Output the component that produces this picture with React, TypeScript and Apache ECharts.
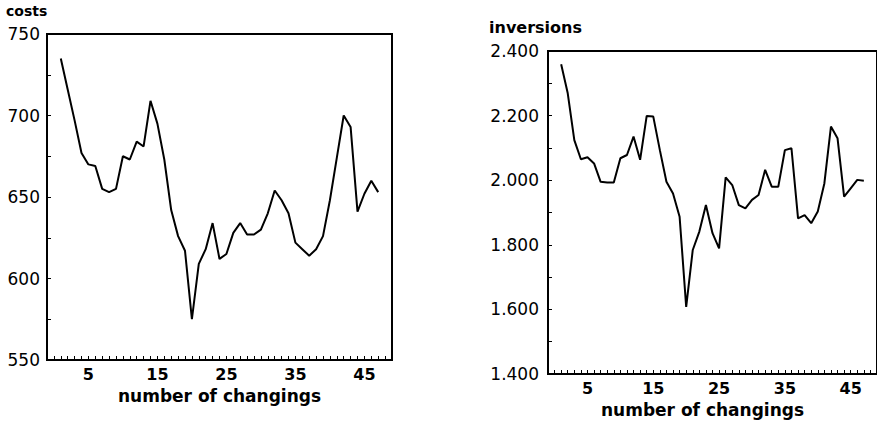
import React, { useEffect, useRef } from "react";
import * as echarts from "echarts";

const costs: number[] = [
  735, 716, 697, 677, 670, 669, 655, 653, 655, 675, 673, 684, 681, 709, 695, 673,
  642, 626, 617, 575, 609, 618, 634, 612, 615, 628, 634, 627, 627, 630, 640, 654,
  648, 640, 622, 618, 614, 618, 626, 648, 674, 700, 693, 641, 652, 660, 653,
];

const inversions: number[] = [
  2359, 2269, 2124, 2065, 2071, 2052, 1995, 1993, 1993, 2068, 2078, 2135, 2063, 2199,
  2197, 2093, 1995, 1959, 1887, 1608, 1784, 1841, 1923, 1836, 1789, 2009, 1985, 1923,
  1913, 1939, 1954, 2032, 1980, 1980, 2093, 2099, 1882, 1892, 1867, 1903, 1990, 2166,
  2130, 1949, 1975, 2001, 1998,
];

const xLabelValues: number[] = [5, 15, 25, 35, 45];
const costLabelValues: number[] = [550, 600, 650, 700, 750];
const invLabelValues: number[] = [1400, 1600, 1800, 2000, 2200, 2400];

const FONT = "DejaVu Sans";

export default function App() {
  const ref = useRef<HTMLDivElement>(null);
  useEffect(() => {
    if (!ref.current) return;
    const chart = echarts.init(ref.current, null, { renderer: "svg" });
    const xAxisBase = (gridIndex: number, namePad: number[]) => ({
      type: "value" as const,
      gridIndex,
      min: -1,
      max: 49,
      interval: 1,
      name: "number of changings",
      nameLocation: "middle" as const,
      nameGap: 27,
      nameTextStyle: {
        fontFamily: FONT,
        fontWeight: "bold" as const,
        fontSize: 17,
        color: "#000",
        padding: namePad,
      },
      axisLine: { show: true, onZero: false, lineStyle: { color: "#000", width: 2 } },
      axisTick: { show: true, inside: true, length: 4, lineStyle: { color: "#000", width: 1 } },
      splitLine: { show: false },
      axisLabel: {
        fontFamily: FONT,
        fontWeight: "bold" as const,
        fontSize: 16,
        color: "#000",
        margin: 6,
        showMinLabel: false,
        showMaxLabel: false,
        formatter: (v: number) => (xLabelValues.includes(v) ? String(v) : ""),
      },
    });
    const yAxisBase = {
      type: "value" as const,
      axisLine: { show: true, onZero: false, lineStyle: { color: "#000", width: 2 } },
      axisTick: { show: true, inside: true, length: 4, lineStyle: { color: "#000" } },
      splitLine: { show: false },
    };
    chart.setOption({
      animation: false,
      grid: [
        { left: 47, top: 34, width: 345, height: 326, show: true, borderColor: "#000", borderWidth: 2 },
        { left: 548, top: 51, width: 340, height: 323, show: true, borderColor: "#000", borderWidth: 2 },
      ],
      xAxis: [xAxisBase(0, [0, 0, 0, 0]), xAxisBase(1, [0, 20, 0, 0])],
      yAxis: [
        {
          ...yAxisBase,
          gridIndex: 0,
          min: 550,
          max: 750,
          interval: 25,
          axisLabel: {
            fontFamily: FONT,
            fontSize: 17,
            color: "#000",
            margin: 7,
            formatter: (v: number) => (costLabelValues.includes(v) ? String(v) : ""),
          },
        },
        {
          ...yAxisBase,
          gridIndex: 1,
          min: 1400,
          max: 2400,
          interval: 100,
          axisLabel: {
            fontFamily: FONT,
            fontSize: 17,
            color: "#000",
            margin: 9,
            formatter: (v: number) => (invLabelValues.includes(v) ? (v / 1000).toFixed(3) : ""),
          },
        },
      ],
      series: [
        {
          type: "line",
          xAxisIndex: 0,
          yAxisIndex: 0,
          data: costs.map((v, i) => [i + 1, v]),
          symbol: "none",
          lineStyle: { color: "#000", width: 2 },
        },
        {
          type: "line",
          xAxisIndex: 1,
          yAxisIndex: 1,
          data: inversions.map((v, i) => [i + 1, v]),
          symbol: "none",
          lineStyle: { color: "#000", width: 2 },
        },
      ],
      graphic: [
        {
          type: "text",
          left: 6,
          top: 4,
          style: { text: "costs", fontFamily: FONT, fontWeight: "bold", fontSize: 14, fill: "#000" },
        },
        {
          type: "text",
          left: 489,
          top: 19,
          style: { text: "inversions", fontFamily: FONT, fontWeight: "bold", fontSize: 16, fill: "#000" },
        },
      ],
    });
    return () => chart.dispose();
  }, []);
  return (
    <div
      ref={ref}
      style={{ position: "fixed", left: 0, top: 0, width: 877, height: 423, background: "#fff" }}
    />
  );
}
